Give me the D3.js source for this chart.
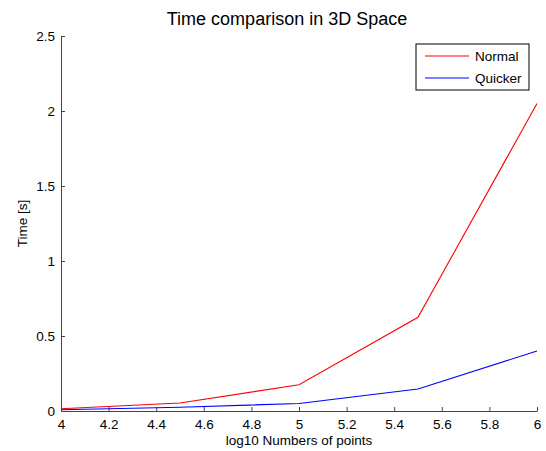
<!DOCTYPE html>
<html>
<head>
<meta charset="utf-8">
<script src="https://cdn.jsdelivr.net/npm/d3@7"></script>
<style>
  body { margin: 0; background: #fff; }
  text { font-family: 'Liberation Sans', Arial, Helvetica, sans-serif; fill: #000; }
</style>
</head>
<body>
<div id="chart"></div>
<script>
// log10 of number of points
var logPoints = [4, 4.5, 5, 5.5, 6]
// run times in seconds
var normalTimes = [0.015, 0.053, 0.175, 0.625, 2.05]
var quickerTimes = [0.008, 0.025, 0.05, 0.147, 0.40]
var xTicks = [4, 4.2, 4.4, 4.6, 4.8, 5, 5.2, 5.4, 5.6, 5.8, 6]
var yTicks = [0, 0.5, 1, 1.5, 2, 2.5]
var seriesNames = ['Normal', 'Quicker']
var seriesColors = ['#ff0000', '#0000ff']

var margin = { top: 36, left: 61, right: 9, bottom: 40 }
var width = 546 - margin.left - margin.right
var height = 451 - margin.top - margin.bottom

var svg = d3
  .select('#chart')
  .append('svg')
  .attr('width', 546)
  .attr('height', 451)

var g = svg
  .append('g')
  .attr('transform', 'translate(' + margin.left + ',' + margin.top + ')')

var x = d3.scaleLinear().domain([4, 6]).range([0, width])
var y = d3.scaleLinear().domain([0, 2.5]).range([height, 0])

// axes, matlab style: ticks pointing inward
var xAxis = g
  .append('g')
  .attr('transform', 'translate(0,' + height + ')')
  .call(d3.axisBottom(x).tickValues(xTicks).tickSizeInner(-4).tickSizeOuter(0).tickPadding(8).tickFormat(d3.format('')))
var yAxis = g
  .append('g')
  .call(d3.axisLeft(y).tickValues(yTicks).tickSizeInner(-4).tickSizeOuter(0).tickPadding(6).tickFormat(d3.format('')))

;[xAxis, yAxis].forEach(function(ax) {
  ax.select('.domain').attr('stroke', '#444')
  ax.selectAll('.tick line').attr('stroke', '#444')
  ax.selectAll('.tick text')
    .attr('font-size', 13.5)
    .attr('font-family', "'Liberation Sans', Arial, sans-serif")
    .attr('fill', '#000')
})

var line = d3
  .line()
  .x(function(d) { return x(d[0]) })
  .y(function(d) { return y(d[1]) })

var series = [normalTimes, quickerTimes]
series.forEach(function(vals, i) {
  g.append('path')
    .datum(logPoints.map(function(p, j) { return [p, vals[j]] }))
    .attr('d', line)
    .attr('fill', 'none')
    .attr('stroke', seriesColors[i])
    .attr('stroke-width', 1.1)
})

// title and labels
svg.append('text')
  .attr('x', 287)
  .attr('y', 25)
  .attr('text-anchor', 'middle')
  .attr('font-size', 18)
  .text('Time comparison in 3D Space')

svg.append('text')
  .attr('x', margin.left + width / 2)
  .attr('y', 445)
  .attr('text-anchor', 'middle')
  .attr('font-size', 13.5)
  .text('log10 Numbers of points')

svg.append('text')
  .attr('transform', 'translate(27,' + (margin.top + height / 2) + ') rotate(-90)')
  .attr('text-anchor', 'middle')
  .attr('font-size', 13.5)
  .text('Time [s]')

// legend
var legend = svg.append('g').attr('transform', 'translate(416,44)')
legend.append('rect')
  .attr('width', 113)
  .attr('height', 46)
  .attr('fill', '#fff')
  .attr('stroke', '#000')
  .attr('stroke-width', 1)

seriesNames.forEach(function(name, i) {
  var ly = 12 + i * 22
  legend.append('line')
    .attr('x1', 9).attr('x2', 53)
    .attr('y1', ly).attr('y2', ly)
    .attr('stroke', seriesColors[i])
    .attr('stroke-width', 1.1)
  legend.append('text')
    .attr('x', 59)
    .attr('y', ly)
    .attr('dy', '0.35em')
    .attr('font-size', 13.5)
    .text(name)
})
</script>
</body>
</html>
